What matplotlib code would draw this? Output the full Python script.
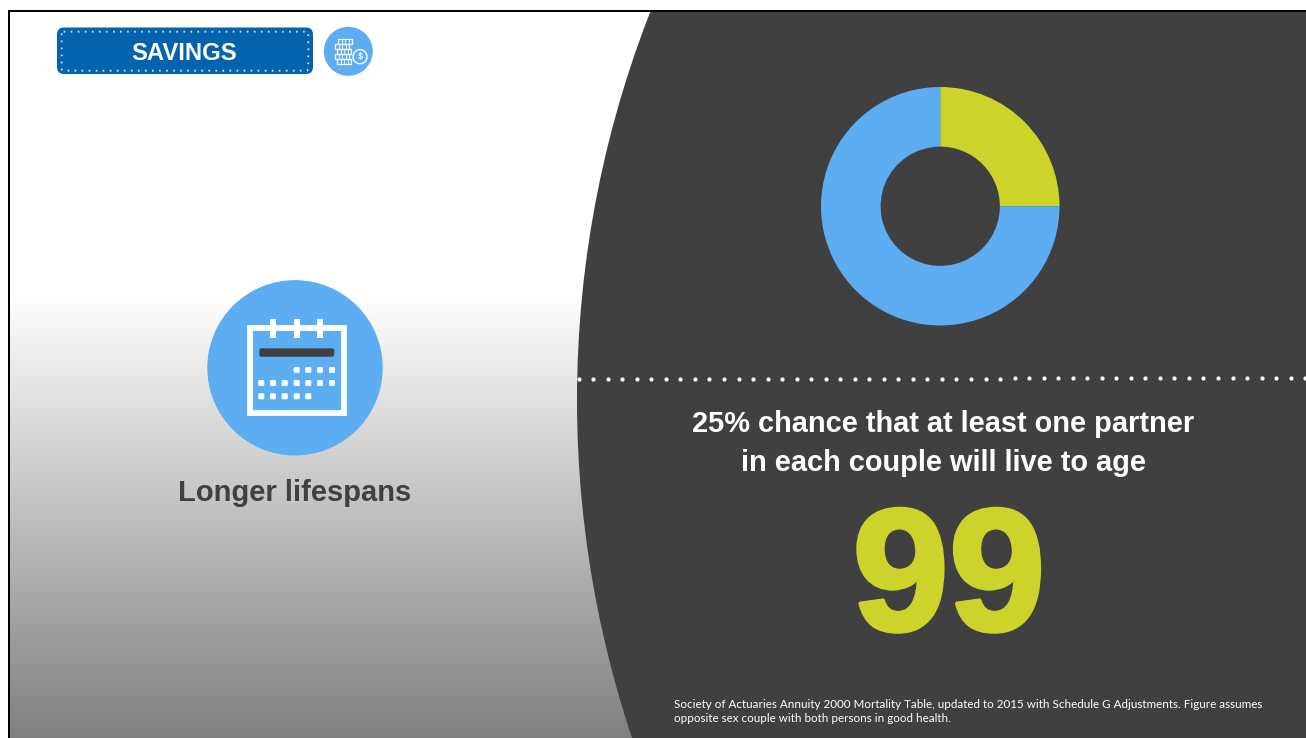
import numpy as np
import matplotlib
matplotlib.use("Agg")
import matplotlib.pyplot as plt
import matplotlib.patheffects as pe
from matplotlib.patches import Circle, Rectangle, FancyBboxPatch

# donut: chance that one partner reaches the age
donut_values = [25, 75]
donut_colors = ["#CCD42B", "#5DADF2"]

badge_text = "SAVINGS"
left_label = "Longer lifespans"
headline = ["25% chance that at least one partner", "in each couple will live to age"]
big_number = "99"
footnote = ["Society of Actuaries Annuity 2000 Mortality Table, updated to 2015 with Schedule G Adjustments. Figure assumes",
            "opposite sex couple with both persons in good health."]

dark = "#404040"
blue = "#5DADF2"
lime = "#CCD42B"
badge_blue = "#0563AE"

plt.rcParams["font.family"] = ["Liberation Sans", "DejaVu Sans"]

fig = plt.figure(figsize=(13.06, 7.38), dpi=100)
ax = fig.add_axes([0, 0, 1, 1])
ax.set_xlim(0, 1306)
ax.set_ylim(738, 0)
ax.axis("off")

# background fade, white down to grey
fade = np.ones((738, 1))
fade[290:, 0] = np.linspace(1.0, 0.5, 448)
ax.imshow(fade, cmap="gray", vmin=0, vmax=1, extent=[0, 1306, 738, 0], aspect="auto", zorder=0)

# big dark shape on the right
ax.add_patch(Circle((1642, 400), 1065, fc=dark, ec="none", zorder=1))
ax.set_xlim(0, 1306)
ax.set_ylim(738, 0)

# frame on top and left
ax.add_patch(Rectangle((0, 0), 1306, 10, fc="white", ec="none", zorder=2))
ax.add_patch(Rectangle((0, 0), 8, 738, fc="white", ec="none", zorder=2))
ax.add_patch(Rectangle((8, 10), 1298, 2, fc="black", ec="none", zorder=3))
ax.add_patch(Rectangle((8, 10), 2, 728, fc="black", ec="none", zorder=3))

# badge
ax.add_patch(FancyBboxPatch((57, 27.5), 256, 46.5, boxstyle="round,pad=0,rounding_size=7",
                            fc=badge_blue, ec="none", zorder=3))
ax.add_patch(FancyBboxPatch((61.7, 31.7), 246.6, 39, boxstyle="round,pad=0,rounding_size=2",
                            fc="none", ec="white", lw=1.3, alpha=0.85, ls=(0, (0.9, 3)), zorder=4))
ax.text(184.5, 60, badge_text, color="white", fontsize=17.2, fontweight="bold",
        ha="center", va="baseline", zorder=5)

# coins icon
ax.add_patch(Circle((348.3, 51.3), 24.5, fc=blue, ec="none", zorder=3))
coin_rows = [(338, 39), (335, 44), (337, 49), (335, 54), (337, 59)]
for row_x, row_y in coin_rows:
    ax.add_patch(Rectangle((row_x, row_y), 14, 4.5, fc="none", ec="white", lw=0.9, zorder=4))
    for step in [3.5, 7, 10.5]:
        ax.plot([row_x + step, row_x + step], [row_y, row_y + 4.5], color="white", lw=0.6, zorder=4)
ax.add_patch(Circle((360, 56.7), 7, fc=blue, ec="white", lw=1, zorder=5))
ax.text(360, 57, "$", color="white", fontsize=6.5, fontweight="bold", ha="center", va="center", zorder=6)

# calendar icon
ax.add_patch(Circle((295, 367.8), 87.7, fc=blue, ec="none", zorder=3))
ax.add_patch(Rectangle((250, 328), 93.5, 85, fc="none", ec="white", lw=4.2, joinstyle="miter", zorder=4))
for ring_x in [273.3, 296.7, 320]:
    ax.add_patch(Rectangle((ring_x - 3, 319), 6, 18.7, fc="white", ec="none", zorder=5))
ax.add_patch(FancyBboxPatch((260, 349), 73.5, 7, boxstyle="round,pad=0,rounding_size=1.5",
                            fc=dark, ec=dark, lw=1, zorder=5))
dot_cols = [261.3, 273, 284.7, 296.7, 308.3, 320, 332]
dot_rows = [(370, dot_cols[3:]), (383, dot_cols), (396.3, dot_cols[:5])]
for row_y, cols in dot_rows:
    for col_x in cols:
        ax.add_patch(FancyBboxPatch((col_x - 2.6, row_y - 2.6), 5.2, 5.2, boxstyle="round,pad=0,rounding_size=1",
                                    fc="white", ec="white", lw=0.6, zorder=5))

ax.text(295, 493, left_label, color=dark, fontsize=21, fontweight="bold", ha="center", va="center", zorder=5)

# dotted divider
dot_x = np.arange(578.7, 1307, 14.53)
ax.plot(dot_x, np.linspace(379.2, 378, len(dot_x)), ls="none", marker="o", ms=3, mfc="white", mec="none", zorder=4)

ax.text(943.5, 424, headline[0], color="white", fontsize=20.9, fontweight="bold", ha="center", va="center", zorder=5)
ax.text(943.5, 463, headline[1], color="white", fontsize=20.9, fontweight="bold", ha="center", va="center", zorder=5)
ax.text(949, 630, big_number, color=lime, fontsize=125, fontweight="bold", ha="center", va="baseline", zorder=5,
        path_effects=[pe.withStroke(linewidth=3, foreground=lime)])

ax.text(674, 704, footnote[0], color="white", fontsize=8.4, family=["Lato", "DejaVu Sans"], ha="left", va="center", zorder=5)
ax.text(674, 718, footnote[1], color="white", fontsize=8.4, family=["Lato", "DejaVu Sans"], ha="left", va="center", zorder=5)

# donut on its own axes
pie_ax = fig.add_axes([821 / 1306, 1 - 325.5 / 738, 238.5 / 1306, 238.5 / 738])
pie_ax.pie(donut_values, colors=donut_colors, startangle=90, counterclock=False, radius=1,
           wedgeprops={"width": 0.5, "edgecolor": "none"})
pie_ax.set_xlim(-1, 1)
pie_ax.set_ylim(-1, 1)
pie_ax.axis("off")
pie_ax.patch.set_visible(False)

fig.savefig("out.png", dpi=100)
